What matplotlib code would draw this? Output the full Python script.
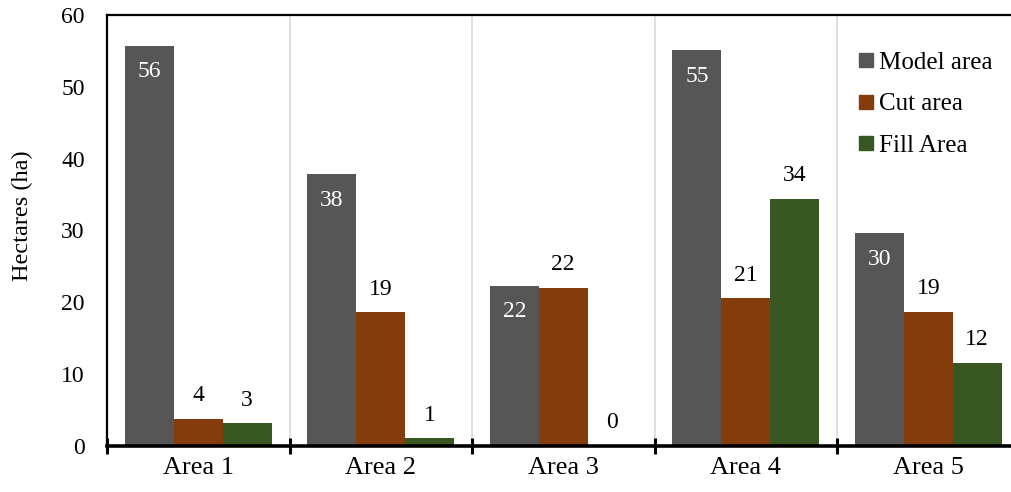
import numpy as np
import matplotlib
matplotlib.use("Agg")
import matplotlib.pyplot as plt
from matplotlib.lines import Line2D

areas      = ["Area 1", "Area 2", "Area 3", "Area 4", "Area 5"]
model_area = [55.7, 37.8, 22.3, 55.1, 29.6]
cut_area   = [3.8, 18.6, 22.0, 20.6, 18.7]
fill_area  = [3.2, 1.1, 0.0, 34.4, 11.6]

SERIES = [
    ("Model area", model_area, "#565656"),
    ("Cut area",   cut_area,   "#843C0C"),
    ("Fill Area",  fill_area,  "#385723"),
]
BAR_W = 0.268

plt.rcParams["font.family"] = ["Liberation Serif", "DejaVu Serif"]

fig = plt.figure(figsize=(10.11, 4.92), dpi=100)
# plot area runs past the right edge of the canvas
ax = fig.add_axes([107 / 1011, 1 - 446 / 492, 912.5 / 1011, 431 / 492])

x = np.arange(len(areas)) + 0.5
for i, (name, vals, color) in enumerate(SERIES):
    xs = x + (i - 1) * BAR_W
    ax.bar(xs, vals, width=BAR_W, color=color, label=name, zorder=2)
    for xv, v in zip(xs, vals):
        if i == 0:
            ax.annotate(f"{v:.0f}", (xv, v), xytext=(0, -26), textcoords="offset pixels",
                        ha="center", va="center", color="white", fontsize=17)
        else:
            ax.annotate(f"{v:.0f}", (xv, v), xytext=(0, 23), textcoords="offset pixels",
                        ha="center", va="center", color="black", fontsize=17)

ax.set_xlim(0, len(areas))
ax.set_ylim(0, 60)
ax.set_yticks(np.arange(0, 61, 10))

# boundaries carry the tick marks, centres carry the labels
ax.set_xticks(np.arange(0, len(areas) + 1))
ax.set_xticklabels([])
ax.set_xticks(x, minor=True)
ax.set_xticklabels(areas, minor=True, fontsize=19)
ax.tick_params(axis="x", which="major", direction="inout", length=12, width=2.2)
ax.tick_params(axis="x", which="minor", length=0, pad=8)
ax.tick_params(axis="y", length=0, pad=16, labelsize=17)

for xb in range(1, len(areas)):
    ax.axvline(xb, color="#d9d9d9", lw=1.2, zorder=1)

ax.spines["left"].set_linewidth(1.6)
ax.spines["top"].set_linewidth(1.6)
ax.spines["bottom"].set_linewidth(2.6)
ax.spines["bottom"].set_zorder(3)
ax.spines["right"].set_visible(False)

fig.text(22 / 1011, 1 - 216 / 492, "Hectares (ha)", rotation=90,
         ha="center", va="center", fontsize=17.5)

handles = [Line2D([], [], marker="s", ls="none", markersize=9.5, color=c)
           for _, _, c in SERIES]
fig.legend(handles, [s[0] for s in SERIES], loc="center left",
           bbox_to_anchor=(858 / 1011, 1 - 104 / 492), frameon=False,
           fontsize=18, handlelength=0.65, handletextpad=0.2,
           borderpad=0, borderaxespad=0, labelspacing=0.76)

fig.savefig("out.png", dpi=100, facecolor="white")
